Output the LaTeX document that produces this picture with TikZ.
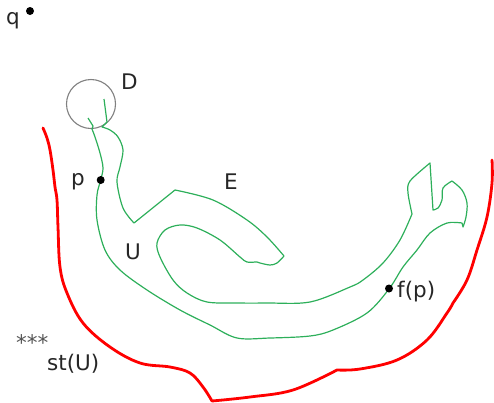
\documentclass[tikz,border=0pt]{standalone}
\usepackage{fontspec}
\setmainfont{DejaVu Sans}
\definecolor{curvegreen}{RGB}{45,175,90}
\definecolor{labelgray}{RGB}{85,85,85}
\tikzset{
  lbl/.style={anchor=base west,inner sep=0pt,font=\fontsize{21.5}{26}\selectfont,text=black!85},
  dot/.style={circle,fill=black,inner sep=0pt,minimum size=8pt},
  greenline/.style={draw=curvegreen,line width=1.2pt,line join=round},
  redline/.style={draw=red,line width=2.8pt,line join=round,line cap=round},
}
\begin{document}
\begin{tikzpicture}[x=1pt,y=-1pt]
\useasboundingbox (0,0) rectangle (494,402);

% disk D
\draw[gray,line width=1.1pt] (91,104) circle (24.5);

% green region U
\path[greenline]
  (88,118) -- (93,126) -- (92,129)
  -- plot[smooth,tension=0.55] coordinates {(92,129) (95,137) (100,153) (103,168) (100.7,180) (97,195) (97,220) (105,250) (120,270) (147,290) (180,310) (210,325) (237,338) (270,338) (310,336) (333,330) (367,313) (389,289) (403,267) (417,250) (430,233) (447,223) (462,223)}
  -- (463,227)
  -- plot[smooth,tension=0.55] coordinates {(463,227) (466,217) (467,203) (462,190) (452,181)}
  -- plot[smooth,tension=0.55] coordinates {(452,181) (443,188) (442,200) (438,208) (433,210)}
  -- (430,163) -- plot[smooth,tension=0.5] coordinates {(430,163) (410,181) (408,193) (412,214)}
  -- plot[smooth,tension=0.55] coordinates {(412,214) (400,240) (383,263) (363,280) (350,287) (310,302) (267,303) (237,303) (207,302) (187,293) (173,280) (160,257) (157,243) (165,230) (180,225) (197,228) (220,240) (240,257) (247,262) (257,262) (260,263) (270,265) (277,263) (284,256)}
  -- plot[smooth,tension=0.55] coordinates {(284,256) (267,237) (247,220) (213,200) (175,190)}
  -- (134,223)
  -- plot[smooth,tension=0.55] coordinates {(134,223) (123,208) (117,182) (120,167) (123,150) (118,137) (110,130) (102,127)}
  -- (107,122) -- (104,99);

% red boundary st(U)
\path[redline]
  plot[smooth,tension=0.6] coordinates {(43,128) (47,138) (50,150) (53,170) (55,187) (57,200) (58,227) (60,267) (67,293) (83,323) (110,347) (140,363) (170,367) (190,373) (203,387) (212,401)}
  -- plot[smooth,tension=0.6] coordinates {(212,401) (250,397) (293,390) (337,370)}
  -- plot[smooth,tension=0.6] coordinates {(337,370) (360,369) (397,360) (427,340) (447,313) (453,303)}
  -- plot[smooth,tension=0.6] coordinates {(453,303) (467,280) (477,250) (487,217) (492,183) (492,160)};

% points
\node[dot] (qdot) at (30,11) {};
\node[dot] (pdot) at (100.7,180) {};
\node[dot] (fpdot) at (389,288.5) {};

% labels
\node[lbl] (qlbl) at (6,24.5) {q};
\node[lbl] (dlbl) at (121,89.5) {D};
\node[lbl] (plbl) at (71,185.5) {p};
\node[lbl] (elbl) at (224,189.5) {E};
\node[lbl] (ulbl) at (125,259.5) {U};
\node[lbl] (fplbl) at (397,297.5) {f(p)};
\node[lbl] (stlbl) at (47,370.5) {st(U)};
\node[lbl,text=labelgray] (stars) at (16,350) {***};
\end{tikzpicture}
\end{document}
